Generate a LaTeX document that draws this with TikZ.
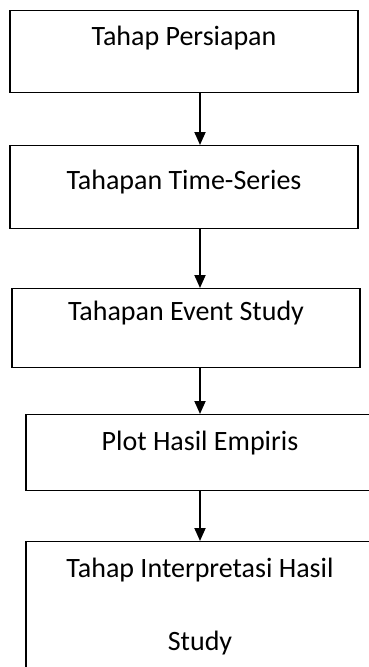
\documentclass[tikz,border=0pt]{standalone}
\usepackage{fontspec}
\setmainfont{Carlito}
\usetikzlibrary{arrows.meta}
\tikzset{
  stagebox/.style={draw, line width=1.4pt, inner sep=0pt, minimum width=348pt,
    font=\fontsize{28}{34}\selectfont, anchor=north},
  flowarrow/.style={line width=1.8pt, -{Triangle[width=11pt,length=13pt]}}
}
\begin{document}
\begin{tikzpicture}[x=1pt,y=-1pt]
\useasboundingbox (0,0) rectangle (368,667);
\coordinate (spine) at (200,0);
\node[stagebox, text height=35pt, text depth=47pt] (persiapan) at (184,10) {Tahap Persiapan};
\node[stagebox, text height=44pt, text depth=39pt] (timeseries) at (184,145) {Tahapan Time-Series};
\node[stagebox, text height=32pt, text depth=47pt] (eventstudy) at (186,288) {Tahapan Event Study};
\node[stagebox, text height=36pt, text depth=40pt] (plot) at (200,414) {Plot Hasil Empiris};
\node[stagebox, align=center, text height=109pt, text depth=50pt] (interpretasi) at (200,541) {Tahap Interpretasi Hasil\\[39pt]Study};
\draw[flowarrow] (persiapan.south -| spine) -- (timeseries.north -| spine);
\draw[flowarrow] (timeseries.south -| spine) -- (eventstudy.north -| spine);
\draw[flowarrow] (eventstudy.south -| spine) -- (plot.north -| spine);
\draw[flowarrow] (plot.south -| spine) -- (interpretasi.north -| spine);
\end{tikzpicture}
\end{document}
